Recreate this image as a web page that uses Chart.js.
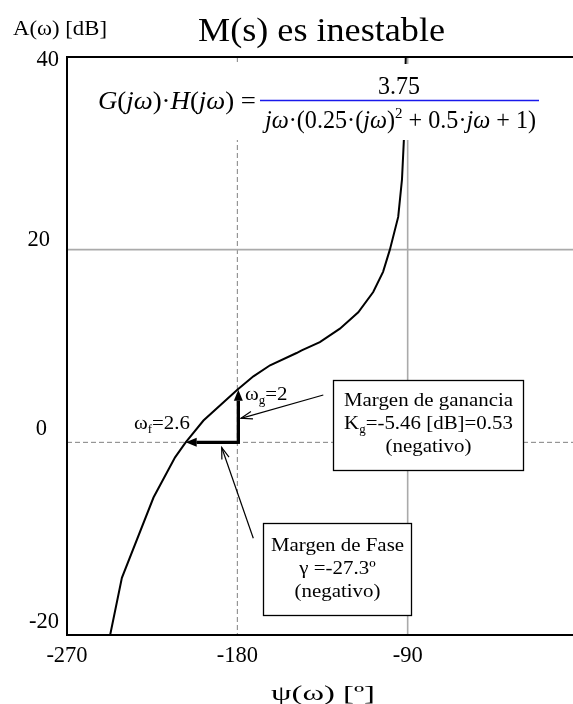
<!DOCTYPE html>
<html><head><meta charset="utf-8">
<script src="https://cdn.jsdelivr.net/npm/chart.js@4.4.1/dist/chart.umd.min.js"></script>
<style>
html,body{margin:0;padding:0;overflow:hidden;background:#fff;width:573px;height:704px}
#wrap{position:relative;width:573px;height:704px;overflow:hidden}
canvas{display:block}
</style></head>
<body><div id="wrap"><canvas id="c" width="600" height="704"></canvas></div>
<script>
// ---- data ----
const phaseDeg = [-91.0, -91.5, -92.0, -93.0, -95.0, -99.4, -103.0, -108.2, -116.1, -125.8, -136.4, -146.0, -148.7, -162.7, -171.5, -180.0, -197.9, -207.3, -212.9, -224.3, -241.0, -247.2];
const gainDb   = [ 40.0,  36.0,  31.4,  27.3,  23.4,  20.0,  17.7,  15.6,  13.5,  11.8,  10.4,   9.55,  9.27,  8.0,   6.85,  5.46,  2.26,  0.0,  -1.56, -5.73, -14.06, -20.0];
const xTicks = [-270, -180, -90, 0];
const xTickLabels = ['-270', '-180', '-90', '0'];
const yTicks = [-20, 0, 20, 40];
const yTickLabels = ['-20', '0', '20', '40'];
const criticalPhase = [-180];
const criticalGain = [0];
const gainMarginAt = [-180, 5.46];   // phase, dB where curve crosses -180
const phaseMarginAt = [-207.3, 0];   // phase, dB where curve crosses 0 dB

// ---- layout / styling (not data) ----
const SERIF = '"Liberation Serif","Times New Roman",serif';
const yLabelPos = { '40': [59, 66], '20': [50, 246], '0': [47, 435], '-20': [59, 628] }; // right edge, baseline

function fnt(size, it) { return (it ? 'italic ' : '') + size + 'px ' + SERIF; }
function runsWidth(ctx, runs, size) {
  let w = 0;
  for (const r of runs) { const s = (r.sup || r.sub) ? size * 0.62 : size; ctx.font = fnt(s, r.it); w += ctx.measureText(r.t).width; }
  return w;
}
function drawRuns(ctx, runs, x, y, size, o) {
  if (typeof runs === 'string') runs = [{ t: runs }];
  const w = runsWidth(ctx, runs, size);
  const sx = o.width ? o.width / w : (o.stretch || 1);
  const tw = w * sx;
  const x0 = o.align === 'center' ? x - tw / 2 : o.align === 'right' ? x - tw : x;
  ctx.save(); ctx.translate(x0, y); ctx.scale(sx, 1);
  ctx.textBaseline = 'alphabetic'; ctx.textAlign = 'left'; ctx.fillStyle = o.color || '#000';
  let cx = 0;
  for (const r of runs) {
    const s = (r.sup || r.sub) ? size * 0.62 : size;
    ctx.font = fnt(s, r.it);
    const dy = r.sup ? -size * 0.42 : r.sub ? size * 0.2 : 0;
    ctx.fillText(r.t, cx, dy);
    cx += ctx.measureText(r.t).width;
  }
  ctx.restore();
}
function thinArrow(ctx, x1, y1, x2, y2) {
  ctx.save(); ctx.strokeStyle = '#000'; ctx.lineWidth = 1.2; ctx.setLineDash([]);
  ctx.beginPath(); ctx.moveTo(x1, y1); ctx.lineTo(x2, y2); ctx.stroke();
  const a = Math.atan2(y2 - y1, x2 - x1), L = 12, sp = 0.32;
  ctx.beginPath();
  ctx.moveTo(x2 - L * Math.cos(a - sp), y2 - L * Math.sin(a - sp));
  ctx.lineTo(x2, y2);
  ctx.lineTo(x2 - L * Math.cos(a + sp), y2 - L * Math.sin(a + sp));
  ctx.stroke(); ctx.restore();
}
function thickArrow(ctx, x1, y1, x2, y2) {
  const a = Math.atan2(y2 - y1, x2 - x1), L = 11, W = 4.5;
  const bx = x2 - L * Math.cos(a), by = y2 - L * Math.sin(a);
  ctx.save(); ctx.strokeStyle = '#000'; ctx.fillStyle = '#000'; ctx.lineWidth = 3.3; ctx.setLineDash([]);
  ctx.beginPath(); ctx.moveTo(x1, y1); ctx.lineTo(bx, by); ctx.stroke();
  ctx.beginPath(); ctx.moveTo(x2, y2);
  ctx.lineTo(bx - W * Math.sin(a), by + W * Math.cos(a));
  ctx.lineTo(bx + W * Math.sin(a), by - W * Math.cos(a));
  ctx.closePath(); ctx.fill(); ctx.restore();
}
function textBox(ctx, x, y, w, h, lines, baselines) {
  ctx.save(); ctx.fillStyle = '#fff'; ctx.fillRect(x, y, w, h);
  ctx.strokeStyle = '#000'; ctx.lineWidth = 1.3; ctx.setLineDash([]); ctx.strokeRect(x, y, w, h);
  ctx.restore();
  lines.forEach((ln, i) => drawRuns(ctx, ln, x + w / 2, baselines[i], 19, { stretch: 1.1, align: 'center' }));
}

const deco = {
  id: 'deco',
  beforeDatasetsDraw(chart) {
    const { ctx, chartArea: a, scales: { x, y } } = chart;
    ctx.save();
    xTicks.slice(1, -1).forEach(v => {
      const px = x.getPixelForValue(v), dashed = criticalPhase.includes(v);
      ctx.beginPath(); ctx.setLineDash(dashed ? [5, 3] : []);
      ctx.strokeStyle = dashed ? '#808080' : '#aaaaaa'; ctx.lineWidth = dashed ? 1 : 1.6;
      ctx.moveTo(px, a.top); ctx.lineTo(px, a.bottom); ctx.stroke();
    });
    yTicks.slice(1, -1).forEach(v => {
      const py = y.getPixelForValue(v), dashed = criticalGain.includes(v);
      ctx.beginPath(); ctx.setLineDash(dashed ? [5, 3] : []);
      ctx.strokeStyle = dashed ? '#808080' : '#aaaaaa'; ctx.lineWidth = dashed ? 1 : 1.6;
      ctx.moveTo(a.left, py); ctx.lineTo(a.right, py); ctx.stroke();
    });
    ctx.restore();
  },
  afterDatasetsDraw(chart) {
    const { ctx, chartArea: a, scales: { x, y } } = chart;
    // frame
    ctx.save(); ctx.strokeStyle = '#000'; ctx.lineWidth = 2; ctx.setLineDash([]);
    ctx.strokeRect(a.left, a.top, a.right - a.left, a.bottom - a.top); ctx.restore();
    // formula panel
    ctx.save(); ctx.fillStyle = '#fff'; ctx.fillRect(88, 64, 460, 76); ctx.restore();
    drawRuns(ctx, [{ t: 'G', it: 1 }, { t: '(' }, { t: 'jω', it: 1 }, { t: ')·' }, { t: 'H', it: 1 }, { t: '(' }, { t: 'jω', it: 1 }, { t: ') =' }], 98, 109, 25, { width: 158 });
    ctx.save(); ctx.strokeStyle = 'rgb(25,25,235)'; ctx.lineWidth = 1.5;
    ctx.beginPath(); ctx.moveTo(260, 100.5); ctx.lineTo(539, 100.5); ctx.stroke(); ctx.restore();
    drawRuns(ctx, '3.75', 399, 94, 25, { width: 42, align: 'center' });
    drawRuns(ctx, [{ t: 'jω', it: 1 }, { t: '·(0.25·(' }, { t: 'jω', it: 1 }, { t: ')' }, { t: '2', sup: 1 }, { t: ' + 0.5·' }, { t: 'jω', it: 1 }, { t: ' + 1)' }], 265, 128, 25, { width: 271 });
    // margin arrows
    const pxC = x.getPixelForValue(gainMarginAt[0]), py0 = y.getPixelForValue(0);
    thickArrow(ctx, pxC + 1, py0 + 1.6, pxC + 1, y.getPixelForValue(gainMarginAt[1]));
    thickArrow(ctx, pxC + 1, py0, x.getPixelForValue(phaseMarginAt[0]), y.getPixelForValue(phaseMarginAt[1]));
    // labels
    drawRuns(ctx, [{ t: 'ω' }, { t: 'g', sub: 1 }, { t: '=2' }], 245, 400, 19, { stretch: 1.1 });
    drawRuns(ctx, [{ t: 'ω' }, { t: 'f', sub: 1 }, { t: '=2.6' }], 134, 429, 19, { stretch: 1.1 });
    // boxes
    textBox(ctx, 333.5, 380.5, 190, 90, ['Margen de ganancia', [{ t: 'K' }, { t: 'g', sub: 1 }, { t: '=-5.46 [dB]=0.53' }], '(negativo)'], [406, 429, 452]);
    textBox(ctx, 263.5, 523.5, 148, 92, ['Margen de Fase', 'γ =-27.3º', '(negativo)'], [551, 574, 597]);
    thinArrow(ctx, 323.3, 395, 241, 418.3);
    thinArrow(ctx, 253.3, 538.3, 221.7, 447.5);
  },
  afterDraw(chart) {
    const { ctx } = chart;
    drawRuns(ctx, 'M(s) es inestable', 198, 41, 33, { width: 247 });
    drawRuns(ctx, 'A(ω) [dB]', 13, 35, 20, { width: 94 });
    drawRuns(ctx, 'ψ(ω) [º]', 323, 700, 22, { width: 104, align: 'center' });
    yTicks.forEach((v, i) => {
      const p = yLabelPos[yTickLabels[i]];
      drawRuns(ctx, yTickLabels[i], p[0], p[1], 22.5, { align: 'right' });
    });
  }
};

new Chart(document.getElementById('c'), {
  type: 'line',
  data: {
    datasets: [{
      data: phaseDeg.map((p, i) => ({ x: p, y: gainDb[i] })),
      borderColor: '#000', borderWidth: 2, pointRadius: 0, tension: 0, fill: false
    }]
  },
  options: {
    responsive: false, animation: false, devicePixelRatio: 1,
    layout: { padding: { left: 0, top: 57, right: 22, bottom: 0 } },
    plugins: { legend: { display: false }, title: { display: false }, tooltip: { enabled: false } },
    scales: {
      x: {
        type: 'linear', min: -270, max: 0,
        afterBuildTicks: s => { s.ticks = xTicks.map(v => ({ value: v })); },
        afterFit: s => { s.height = 69; },
        grid: { display: false, drawTicks: false }, border: { display: false },
        ticks: {
          padding: 8, color: '#000', maxRotation: 0, autoSkip: false,
          font: { family: SERIF, size: 22.5 },
          callback: (v) => xTickLabels[xTicks.indexOf(v)]
        }
      },
      y: {
        type: 'linear', min: -20, max: 40,
        afterBuildTicks: s => { s.ticks = yTicks.map(v => ({ value: v })); },
        afterFit: s => { s.width = 67; },
        grid: { display: false, drawTicks: false }, border: { display: false },
        ticks: { display: false }
      }
    }
  },
  plugins: [deco]
});
</script>
</body></html>
